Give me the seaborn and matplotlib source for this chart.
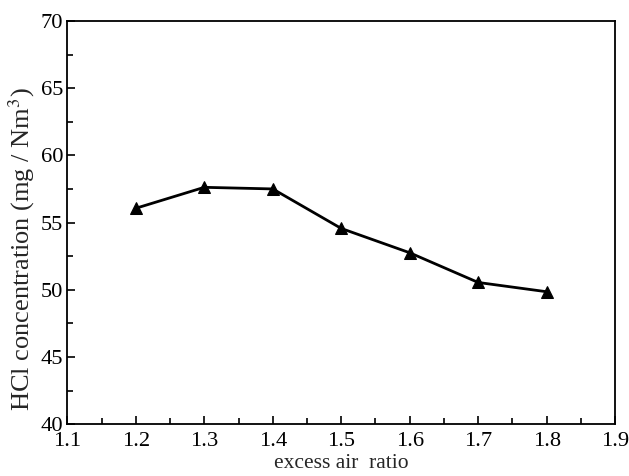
import matplotlib
matplotlib.use("Agg")
import matplotlib.pyplot as plt
import seaborn as sns
import pandas as pd
from matplotlib.ticker import MultipleLocator

# data
excess_air_ratio = [1.2, 1.3, 1.4, 1.5, 1.6, 1.7, 1.8]
hcl_concentration = [56.06, 57.62, 57.50, 54.56, 52.75, 50.54, 49.85]

df = pd.DataFrame({"ratio": excess_air_ratio, "hcl": hcl_concentration})

sns.set_style("ticks")
plt.rcParams["font.family"] = ["Liberation Serif", "DejaVu Serif"]
plt.rcParams["mathtext.fontset"] = "stix"

fig = plt.figure(figsize=(6.29, 4.76), dpi=100)
ax = fig.add_axes([0.107, 0.109, 0.871, 0.847])

sns.lineplot(data=df, x="ratio", y="hcl", ax=ax, color="black",
             linewidth=2.0, marker="^", markersize=9,
             markeredgecolor="black", markerfacecolor="black")

ax.set_xlim(1.1, 1.9)
ax.set_ylim(40, 70)
ax.xaxis.set_major_locator(MultipleLocator(0.1))
ax.xaxis.set_minor_locator(MultipleLocator(0.05))
ax.yaxis.set_major_locator(MultipleLocator(5))
ax.yaxis.set_minor_locator(MultipleLocator(2.5))
ax.xaxis.set_major_formatter(plt.FuncFormatter(lambda v, p: f"{v:.1f}"))

ax.tick_params(which="both", direction="in", top=False, right=False,
               labelsize=16.2, width=1.2, colors="black")
ax.tick_params(axis="x", pad=6)
ax.tick_params(axis="y", pad=3)
ax.tick_params(which="major", length=6)
ax.tick_params(which="minor", length=4)

for side in ax.spines.values():
    side.set_visible(True)
    side.set_linewidth(1.3)
    side.set_color("black")

ax.set_xlabel("excess air  ratio", fontsize=15.5, labelpad=2)
ax.set_ylabel("HCl concentration (mg / Nm$^3$)", fontsize=19)
# the reference places the y label a bit below the axis middle
ax.yaxis.set_label_coords(-0.056, 0.434)

fig.savefig("out.png", dpi=100)
